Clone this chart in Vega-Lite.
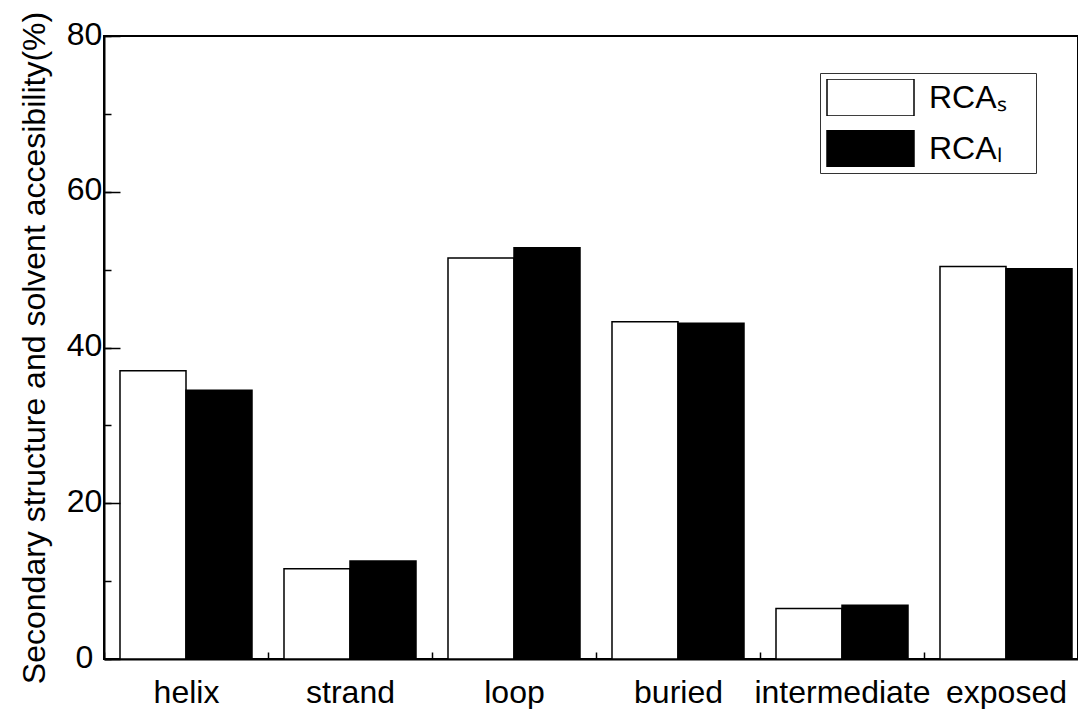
{
  "$schema": "https://vega.github.io/schema/vega-lite/v6.json",
  "width": 974,
  "height": 623,
  "autosize": {"type": "none"},
  "padding": {"left": 104, "top": 36, "right": 0, "bottom": 50},
  "background": "white",
  "config": {
    "font": "Liberation Sans",
    "view": {"stroke": "black", "strokeWidth": 2}
  },
  "data": {
    "values": [
      {"category": "helix", "series": "RCA_S", "value": 37.0},
      {"category": "helix", "series": "RCA_L", "value": 34.5},
      {"category": "strand", "series": "RCA_S", "value": 11.6},
      {"category": "strand", "series": "RCA_L", "value": 12.6},
      {"category": "loop", "series": "RCA_S", "value": 51.5},
      {"category": "loop", "series": "RCA_L", "value": 52.8},
      {"category": "buried", "series": "RCA_S", "value": 43.3},
      {"category": "buried", "series": "RCA_L", "value": 43.1},
      {"category": "intermediate", "series": "RCA_S", "value": 6.5},
      {"category": "intermediate", "series": "RCA_L", "value": 6.9},
      {"category": "exposed", "series": "RCA_S", "value": 50.4},
      {"category": "exposed", "series": "RCA_L", "value": 50.1}
    ]
  },
  "resolve": {"axis": {"y": "independent"}},
  "layer": [
    {
      "mark": {"type": "bar", "opacity": 0},
      "encoding": {
        "x": {
          "field": "category",
          "type": "nominal",
          "sort": ["helix", "strand", "loop", "buried", "intermediate", "exposed"],
          "scale": {"range": [0, 984], "paddingInner": 0, "paddingOuter": 0},
          "axis": {
            "title": null, "labelAngle": 0, "labelFontSize": 32, "labelColor": "black", "labelLimit": 400,
            "tickBand": "extent", "tickSize": -7, "tickColor": "black", "tickWidth": 1.5,
            "domainColor": "black", "domainWidth": 2, "labelPadding": 25
          }
        },
        "xOffset": {"field": "series", "type": "nominal", "sort": ["RCA_S", "RCA_L"], "scale": {"paddingInner": 0, "paddingOuter": 0.2424}},
        "y": {
          "field": "value",
          "type": "quantitative",
          "scale": {"domain": [0, 80], "nice": false},
          "axis": {
            "orient": "left",
            "title": null,
            "tickCount": 8,
            "labels": false,
            "domain": false,
            "grid": false,
            "tickSize": -7,
            "tickColor": "black",
            "tickWidth": 1.5,
            "tickOpacity": 1,
            "zindex": 2
          }
        }
      }
    },
    {
      "mark": {"type": "bar", "stroke": "black", "strokeWidth": 1.5},
      "encoding": {
        "x": {
          "field": "category",
          "type": "nominal",
          "sort": ["helix", "strand", "loop", "buried", "intermediate", "exposed"],
          "scale": {"range": [0, 984], "paddingInner": 0, "paddingOuter": 0},
          "axis": {
            "title": null, "labelAngle": 0, "labelFontSize": 32, "labelColor": "black", "labelLimit": 400,
            "tickBand": "extent", "tickSize": -7, "tickColor": "black", "tickWidth": 1.5,
            "domainColor": "black", "domainWidth": 2, "labelPadding": 25
          }
        },
        "xOffset": {"field": "series", "type": "nominal", "sort": ["RCA_S", "RCA_L"], "scale": {"paddingInner": 0, "paddingOuter": 0.2424}},
        "y": {
          "field": "value",
          "type": "quantitative",
          "scale": {"domain": [0, 80], "nice": false},
          "axis": {
            "orient": "left",
            "title": "Secondary structure and solvent accesibility(%)",
            "titleFontSize": 32,
            "titleFontWeight": "normal",
            "titleColor": "black",
            "titlePadding": 15,
            "tickCount": 4,
            "labelFontSize": 32,
            "labelColor": "black",
            "labelAlign": "center",
            "labelOffset": -2,
            "grid": false,
            "tickSize": -16,
            "tickColor": "black",
            "tickWidth": 1.5,
            "tickOpacity": 1,
            "domainColor": "black",
            "domainWidth": 2,
            "labelPadding": 36,
            "zindex": 2
          }
        },
        "fill": {
          "field": "series",
          "type": "nominal",
          "scale": {"domain": ["RCA_S", "RCA_L"], "range": ["white", "black"]},
          "legend": {
            "orient": "none",
            "legendX": 716,
            "legendY": 37,
            "title": null,
            "labelExpr": "datum.value === 'RCA_S' ? 'RCAₛ\u2800' : 'RCAₗ\u2800'",
            "symbolType": "M-1,-0.425L1,-0.425L1,0.425L-1,0.425Z",
            "symbolSize": 7569,
            "symbolStrokeColor": "black",
            "symbolStrokeWidth": 1.5,
            "clipHeight": 37,
            "rowPadding": 14,
            "labelFontSize": 32,
            "labelColor": "black",
            "labelOffset": 14,
            "padding": 6,
            "strokeColor": "#333",
            "fillColor": "white"
          }
        }
      }
    }
  ]
}
